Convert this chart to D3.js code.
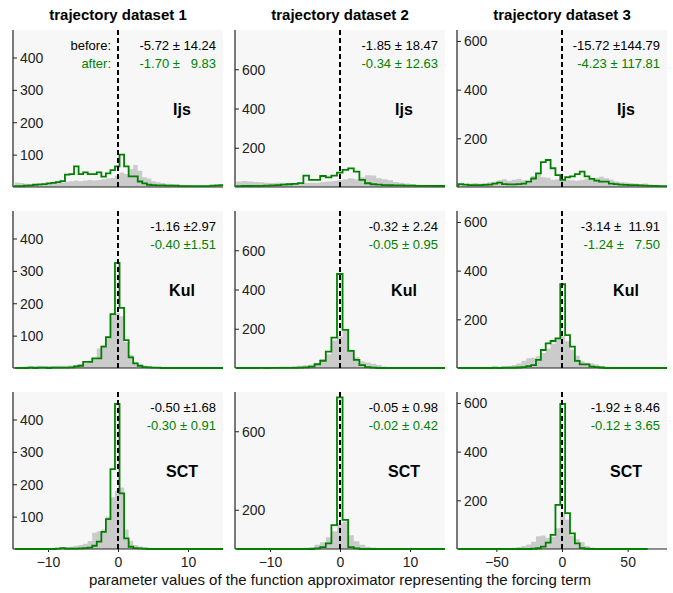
<!DOCTYPE html>
<html>
<head>
<meta charset="utf-8">
<title>forcing term parameter histograms</title>
<script src="https://cdn.jsdelivr.net/npm/d3@7"></script>
<style>
  body { margin: 0; background: #fff; }
  svg text { font-family: "Liberation Sans", Arial, sans-serif; }
  .stat { white-space: pre; font-size: 13px; }
  .tick text { font-size: 14px; fill: #222; }
</style>
</head>
<body>
<svg id="chart" width="673" height="593"></svg>
<script>
// columns = datasets, rows = methods
var datasets = ["trajectory dataset 1", "trajectory dataset 2", "trajectory dataset 3"];
var methods = ["Ijs", "Kul", "SCT"];
var xDomains = [[-15, 15], [-15, 15], [-80, 80]];
var yMax = [485, 800, 645];
var xTicks = [[-10, 0, 10], [-10, 0, 10], [-50, 0, 50]];
var yTicks = [
  [[100, 200, 300, 400], [200, 400, 600], [200, 400, 600]],
  [[100, 200, 300, 400], [200, 400, 600], [200, 400, 600]],
  [[100, 200, 300, 400], [200, 600], [200, 400, 600]]
];
var binStart = [-14.73, -14.83, -79];
var binWidth = [0.65, 0.8, 3.7];

var statsBefore = [
  ["-5.72 ± 14.24", "-1.85 ± 18.47", "-15.72 ±144.79"],
  ["-1.16 ±2.97", "-0.32 ± 2.24", "-3.14 ±  11.91"],
  ["-0.50 ±1.68", "-0.05 ± 0.98", "-1.92 ± 8.46"]
];
var statsAfter = [
  ["-1.70 ±   9.83", "-0.34 ± 12.63", "-4.23 ± 117.81"],
  ["-0.40 ±1.51", "-0.05 ± 0.95", "-1.24 ±   7.50"],
  ["-0.30 ± 0.91", "-0.02 ± 0.42", "-0.12 ± 3.65"]
];

// histogram counts (before = grey, after = green), one array per dataset
var beforeIjs = [
  [14,12,10,8,8,9,10,10,12,12,14,16,18,20,18,20,22,20,22,24,26,28,35,45,40,55,68,50,30,26,18,15,12,10,9,8,7,6,5,5,4,4,4,4,5,6],
  [28,30,28,25,24,22,20,22,22,20,18,18,20,22,22,25,28,30,35,40,45,40,50,60,58,45,40,35,25,22,18,15,12,10,10,8,8,6],
  [10,12,14,16,14,16,20,22,28,32,26,30,34,28,24,45,58,40,38,30,32,28,30,28,26,30,34,30,38,42,36,30,24,20,18,16,14,12,14,10,8,8,6]
];
var afterIjs = [
  [3,3,4,5,7,8,9,11,13,15,18,38,40,64,40,45,40,40,45,32,42,52,64,100,64,33,33,17,11,7,6,5,5,4,4,4,3,3,3,3,3,3,3,4,5,6],
  [4,5,5,6,6,7,8,10,12,14,16,20,58,36,36,56,49,58,73,87,95,78,36,19,14,12,10,9,8,8,7,7,6,6,6,5,5,5],
  [12,10,8,8,8,9,10,14,18,12,11,11,12,14,22,35,56,102,111,77,49,29,40,44,53,63,44,33,26,22,22,14,12,10,9,8,8,7,6,5,5,4,4]
];
var beforeKul = [
  [3,4,5,6,6,7,6,6,6,7,7,7,8,10,12,15,20,28,60,70,90,160,170,160,80,40,18,10,8,6,4,3,2,2,1,1,1,0,0,0,0,0,0,0,0,0],
  [0,0,1,1,2,3,4,6,8,8,10,12,14,18,25,45,70,140,160,190,90,55,35,28,22,15,8,5,3,2,1,1,0,0,0,0,0,0],
  [0,0,0,1,1,2,2,3,4,6,8,12,18,30,40,42,48,62,80,100,120,130,110,75,50,28,22,18,14,8,5,3,2,1,1,0,0,0,0,0,0,0,0]
];
var afterKul = [
  [0,0,0,1,0,1,1,0,1,1,1,1,2,5,7,19,19,30,30,66,95,166,325,186,86,33,14,7,3,2,1,1,0,0,0,0,0,0,0,0,0,0,0,0,0,0],
  [0,0,0,0,1,0,1,1,1,1,1,2,3,7,19,37,83,155,479,194,87,41,15,4,2,0,0,0,0,0,0,0,0,0,0,0,0,0],
  [0,0,0,0,0,0,0,1,0,1,1,1,2,4,8,12,33,74,101,111,122,344,135,88,29,15,15,6,4,2,0,0,0,0,0,0,0,0,0,0,0,0,0]
];
var beforeSCT = [
  [0,0,1,1,1,2,2,2,3,4,5,6,8,10,12,16,25,50,55,60,100,160,180,190,60,25,12,8,5,4,3,2,1,1,1,0,0,0,0,0,0,0,0,0,0,0],
  [0,0,0,0,0,0,0,1,1,2,3,4,6,10,22,35,60,90,130,140,70,40,22,12,8,5,3,2,1,1,0,0,0,0,0,0,0,0],
  [0,0,0,0,0,0,0,1,1,2,3,5,8,12,18,30,52,55,45,50,85,150,120,55,40,28,12,6,3,2,1,0,0,0,0,0,0,0,0,0,0,0,0]
];
var afterSCT = [
  [0,0,0,0,0,0,0,0,0,1,3,1,1,1,2,3,4,10,23,53,92,247,448,172,33,7,3,2,1,0,0,0,0,0,0,0,0,0,0,0,0,0,0,0,0,0],
  [0,0,0,0,0,0,0,0,0,0,0,0,0,0,3,10,29,122,773,148,10,3,0,0,0,0,0,0,0,0,0,0,0,0,0,0,0,0],
  [0,0,0,0,0,0,0,0,0,0,0,0,0,0,0,1,3,10,26,58,181,596,147,64,23,4,1,0,0,0,0,0,0,0,0,0,0,0,0]
];

var before = [beforeIjs, beforeKul, beforeSCT];
var after = [afterIjs, afterKul, afterSCT];

var colLeft = [13, 235, 457], rowTop = [30, 211, 392];
var pw = 210, ph = 157;
var green = "#008000";

var svg = d3.select("#chart");

function stepPoints(counts, start, w) {
  var pts = [[start, 0]];
  counts.forEach(function(c, i) {
    pts.push([start + i * w, c]);
    pts.push([start + (i + 1) * w, c]);
  });
  pts.push([start + counts.length * w, 0]);
  return pts;
}

datasets.forEach(function(title, c) {
  svg.append("text")
    .attr("x", colLeft[c] + pw / 2)
    .attr("y", 20)
    .attr("text-anchor", "middle")
    .style("font-size", "15px")
    .style("font-weight", "bold")
    .text(title);
});

methods.forEach(function(m, r) {
  datasets.forEach(function(ds, c) {
    var x = d3.scaleLinear().domain(xDomains[c]).range([0, pw]);
    var y = d3.scaleLinear().domain([0, yMax[c]]).range([ph, 0]);

    var g = svg.append("g")
      .attr("transform", "translate(" + colLeft[c] + "," + rowTop[r] + ")");

    var clipId = "clip" + r + c;
    g.append("clipPath").attr("id", clipId)
      .append("rect").attr("x", 0).attr("y", -2).attr("width", pw).attr("height", ph + 4);

    g.append("rect")
      .attr("width", pw).attr("height", ph)
      .attr("fill", "#f7f7f7");

    var pts = stepPoints(before[r][c], binStart[c], binWidth[c]);
    var area = d3.area()
      .x(function(d) { return x(d[0]); })
      .y0(y(0))
      .y1(function(d) { return y(d[1]); });
    g.append("path")
      .datum(pts)
      .attr("clip-path", "url(#" + clipId + ")")
      .attr("fill", "#cbcbcb")
      .attr("d", area);

    // axes
    var yAxis = d3.axisLeft(y).tickValues(yTicks[r][c]).tickSize(-4).tickPadding(4);
    var ya = g.append("g").attr("class", "y axis").call(yAxis);
    ya.select(".domain").remove();
    ya.selectAll(".tick line").attr("stroke", "#222");
    ya.selectAll(".tick text").attr("text-anchor", "start").attr("x", 7).attr("dy", "0.35em");

    g.append("line")
      .attr("x1", 0).attr("x2", 0).attr("y1", 0).attr("y2", ph)
      .attr("stroke", "#222").attr("stroke-width", 1.2);
    g.append("line")
      .attr("x1", 0).attr("x2", pw).attr("y1", ph).attr("y2", ph)
      .attr("stroke", "#222").attr("stroke-width", 1.2);

    if (r === methods.length - 1) {
      var xAxis = d3.axisBottom(x).tickValues(xTicks[c]).tickSize(3).tickPadding(5)
        .tickFormat(function(v) { return v < 0 ? "\u2212" + Math.abs(v) : v; });
      var xa = g.append("g").attr("class", "x axis")
        .attr("transform", "translate(0," + ph + ")")
        .call(xAxis);
      xa.select(".domain").remove();
      xa.selectAll(".tick line").attr("stroke", "#222");
    }

    var line = d3.line()
      .x(function(d) { return x(d[0]); })
      .y(function(d) { return y(d[1]); });
    g.append("path")
      .datum(stepPoints(after[r][c], binStart[c], binWidth[c]))
      .attr("clip-path", "url(#" + clipId + ")")
      .attr("fill", "none")
      .attr("stroke", green)
      .attr("stroke-width", 1.8)
      .attr("d", line);

    g.append("line")
      .attr("x1", x(0)).attr("x2", x(0))
      .attr("y1", 0).attr("y2", ph)
      .attr("stroke", "#000")
      .attr("stroke-width", 2)
      .attr("stroke-dasharray", "5,3");

    g.append("text").attr("class", "stat")
      .attr("x", pw - 7).attr("y", 20)
      .attr("text-anchor", "end")
      .attr("fill", "#000")
      .text(statsBefore[r][c]);
    g.append("text").attr("class", "stat")
      .attr("x", pw - 7).attr("y", 38)
      .attr("text-anchor", "end")
      .attr("fill", green)
      .text(statsAfter[r][c]);

    if (r === 0 && c === 0) {
      g.append("text").attr("class", "stat")
        .attr("x", x(0) - 7).attr("y", 20)
        .attr("text-anchor", "end").attr("fill", "#000")
        .text("before:");
      g.append("text").attr("class", "stat")
        .attr("x", x(0) - 7).attr("y", 38)
        .attr("text-anchor", "end").attr("fill", green)
        .text("after:");
    }

    g.append("text")
      .attr("x", 169).attr("y", 85)
      .attr("text-anchor", "middle")
      .style("font-size", "16px")
      .style("font-weight", "bold")
      .text(m);
  });
});

svg.append("text")
  .attr("x", 340).attr("y", 585)
  .attr("text-anchor", "middle")
  .style("font-size", "15px")
  .attr("fill", "#111")
  .text("parameter values of the function approximator representing the forcing term");
</script>
</body>
</html>
